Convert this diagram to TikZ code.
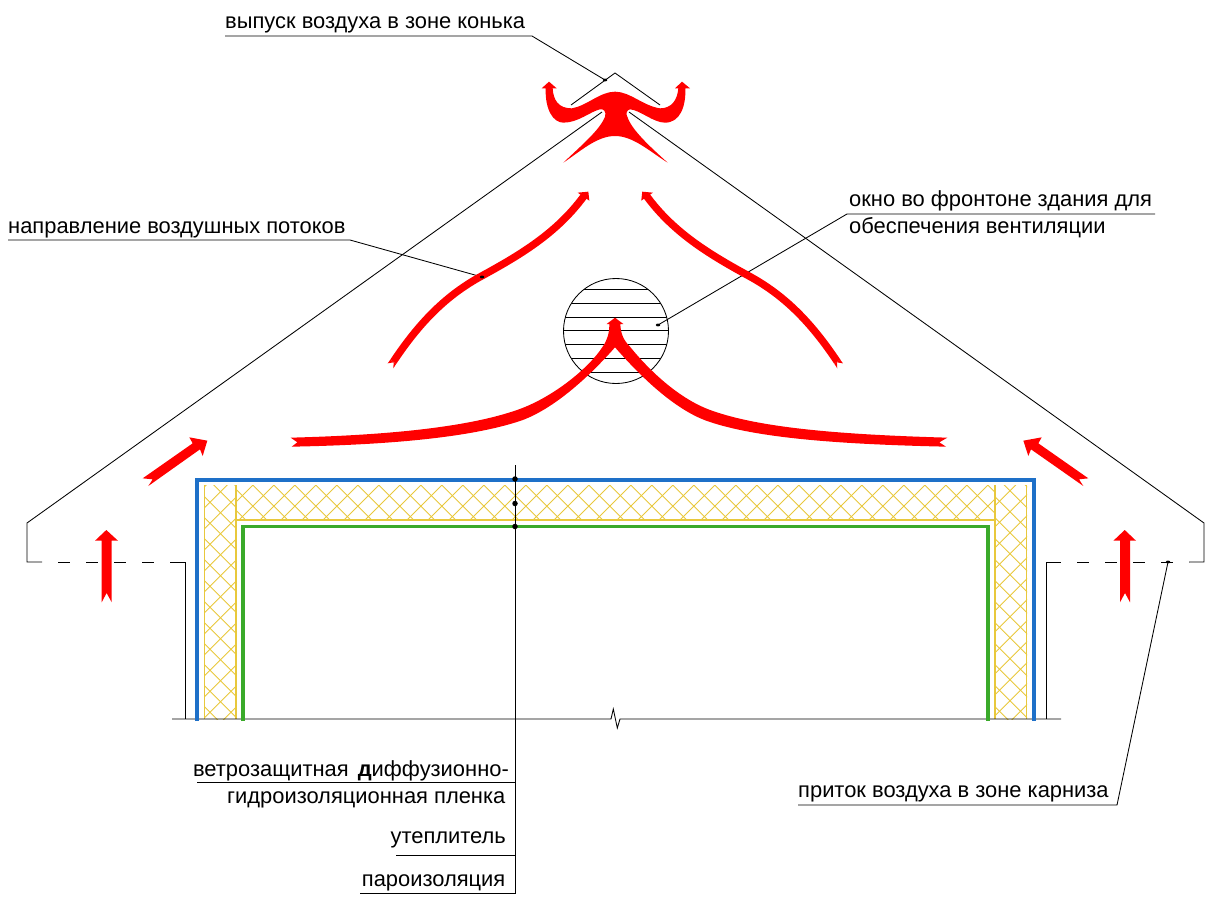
\documentclass[tikz,border=0pt]{standalone}
\usepackage{fontspec}
\usetikzlibrary{shapes.geometric}
\setmainfont{Liberation Sans}
\definecolor{flowred}{RGB}{255,0,0}
\definecolor{memblue}{RGB}{30,112,200}
\definecolor{vapgreen}{RGB}{58,170,42}
\definecolor{insyellow}{RGB}{232,200,60}
\tikzset{
  thinline/.style={draw=black,line width=0.85pt},
  leader/.style={draw=black,line width=0.85pt},
  lbl/.style={inner sep=0pt,anchor=base west,font=\fontsize{21.9}{26}\selectfont},
  lblr/.style={inner sep=0pt,anchor=base east,font=\fontsize{21.9}{26}\selectfont},
  dotmark/.style={circle,fill=black,inner sep=0pt,minimum size=5.5pt},
  smalldot/.style={ellipse,fill=black,inner sep=0pt,minimum width=4.5pt,minimum height=2.8pt},
  hatchline/.style={draw=insyellow,line width=0.8pt},
  insline/.style={draw=insyellow,line width=1.2pt},
  zoomA/.style={shift={(#1)},x=0.33333pt,y=-0.33333pt},
  flow/.style={fill=flowred,draw=none},
  upstream/.style={draw=flowred,line width=7.4pt},
}
\newcommand{\hatchband}[6]{%
  \begin{scope}
    \clip (#1,#2) rectangle (#3,#4);
    \foreach \k in {0,...,100} {
      \pgfmathsetmacro{\cA}{#5+21*\k}
      \pgfmathsetmacro{\cB}{#6+21*\k}
      \draw[hatchline] (\cA-460,460) -- (\cA-740,740);
      \draw[hatchline] (\cB+460,460) -- (\cB+740,740);
    }
  \end{scope}}
\newcommand{\upperflow}{%
  \begin{scope}[zoomA={280,170}]
    \draw[upstream] (340,575) .. controls (420,455) and (500,375) .. (605,318)
      .. controls (720,255) and (830,190) .. (912,78);
    \fill[flow] (331,569) -- (323,580) -- (341,577) -- (340,595) -- (349,581) -- cycle;
    \fill[flow] (893,68) -- (925,65) -- (928,92) -- cycle;
  \end{scope}}
\begin{document}
\begin{tikzpicture}[x=1pt,y=-1pt]
\useasboundingbox (0,0) rectangle (1207,899);
% --- insulation hatch ---
\hatchband{204}{485}{236}{719}{439.3}{-838.3}
\hatchband{236}{485}{995}{520}{423}{-820.3}
\hatchband{995}{485}{1027}{719}{429.7}{-824.7}
\draw[insline] (204.3,485) -- (204.3,719);
\draw[insline] (236,485) -- (236,520) -- (995,520) -- (995,485);
\draw[insline] (236,520) -- (236,719);
\draw[insline] (995,520) -- (995,719);
\draw[insline] (1026.7,485) -- (1026.7,719);
% --- building outline ---
\draw[thinline] (602,112) -- (27,523) -- (27,562) -- (42,562);
\draw[thinline,dash pattern=on 12pt off 16pt] (58,562) -- (170,562);
\draw[thinline] (170,562) -- (185.5,562) -- (185.5,719);
\draw[thinline] (629,112) -- (1204,523) -- (1204,562) -- (1189,562);
\draw[thinline] (1046,719) -- (1046,562) -- (1061,562);
\draw[thinline,dash pattern=on 12pt off 16pt] (1077,562) -- (1189,562);
\draw[thinline] (571,105) -- (615,73) -- (660,105);
\draw[thinline] (172,719) -- (611,719) -- (613.3,709) -- (617.3,728) -- (620,719) -- (1061,719);
% --- window ---
\begin{scope}
  \clip (616,331) circle (52.5);
  \foreach \y in {289.3,303.3,317,330.7,344.7,358.7,372.3} {
    \draw[thinline] (560,\y) -- (672,\y);
  }
\end{scope}
\draw[thinline] (616,331) circle (52.5);
% --- layers ---
\draw[draw=memblue,line width=3.6pt,miter limit=10] (197,721) -- (197,480) -- (1034,480) -- (1034,721);
\draw[draw=vapgreen,line width=3.6pt] (243,721) -- (243,526.5) -- (988,526.5) -- (988,721);
% --- leaders ---
\coordinate (tipA) at (605,80);
\coordinate (kneeA) at (532,36);
\coordinate (startA) at (225,36);
\coordinate (tipB) at (482,277);
\coordinate (kneeB) at (350,240);
\coordinate (startB) at (8,240);
\coordinate (tipC) at (658,325);
\coordinate (kneeC) at (847,214);
\coordinate (endC) at (1155,214);
\coordinate (tipD) at (1168,562);
\coordinate (kneeD) at (1117,805);
\coordinate (startD) at (798,805);
\coordinate (topE) at (515,465);
\coordinate (botE) at (515,893);
\coordinate (e1) at (197,782.5);
\coordinate (e1r) at (515,782.5);
\coordinate (e2) at (396,855);
\coordinate (e2r) at (515,855);
\coordinate (e3) at (360,893);
\draw[leader] (startA) -- (kneeA) -- (tipA);
\draw[leader] (startB) -- (kneeB) -- (tipB);
\draw[leader] (endC) -- (kneeC) -- (tipC);
\draw[leader] (startD) -- (kneeD) -- (tipD);
\draw[leader] (topE) -- (botE) -- (e3);
\draw[leader] (e1) -- (e1r);
\draw[leader] (e2) -- (e2r);
% --- red flows ---
\begin{scope}[zoomA={500,0}]
\fill[flow] (137,265) -- (125,265) -- (147,245) -- (170,265) -- (158,265)
  .. controls (160,300) and (175,325) .. (215,325)
  .. controls (260,318) and (300,275) .. (345,275)
  .. controls (390,275) and (430,318) .. (480,325)
  .. controls (515,325) and (532,300) .. (535,265)
  -- (525,265) -- (546,245) -- (570,265) -- (556,265)
  .. controls (558,320) and (540,368) .. (495,368)
  .. controls (460,368) and (420,330) .. (390,328)
  .. controls (378,330) and (378,345) .. (382,350)
  .. controls (395,390) and (450,440) .. (503,488)
  .. controls (450,455) and (400,408) .. (345,408)
  .. controls (290,408) and (240,455) .. (190,488)
  .. controls (240,440) and (300,390) .. (315,350)
  .. controls (320,335) and (310,325) .. (300,328)
  .. controls (270,335) and (235,368) .. (190,368)
  .. controls (160,368) and (135,330) .. (137,265) -- cycle;
\end{scope}
% upper flows (right one is the mirror image of the left one)
\upperflow
\begin{scope}[shift={(1230.6,0)},xscale=-1]
\upperflow
\end{scope}
% lower forked flow with its common head
\begin{scope}[zoomA={280,170}]
\fill[flow] (32,803) .. controls (300,796) and (555,775) .. (714,719)
  .. controls (824,680) and (930,590) .. (968,530)
  .. controls (982,510) and (988,490) .. (988,462)
  -- (980,462) -- (1005,443) -- (1030,462) -- (1021,462)
  .. controls (1022,490) and (1030,510) .. (1050,530)
  .. controls (1090,580) and (1186,684) .. (1296,722)
  .. controls (1445,775) and (1690,794) .. (2002,803)
  -- (1978,817) -- (1998,830)
  .. controls (1690,823) and (1435,806) .. (1284,754)
  .. controls (1174,716) and (1065,600) .. (1005,532)
  .. controls (945,600) and (836,710) .. (726,751)
  .. controls (565,806) and (300,825) .. (35,830)
  -- (52,817) -- cycle;
\end{scope}
% straight flows
\fill[flow] (106.3,530) -- (118,540.7) -- (111.7,540.7) -- (111.7,602.3) -- (106.6,593) -- (101.7,602.3) -- (101.7,540.7) -- (95,540.7) -- cycle;
\fill[flow] (1124.7,530) -- (1136,540.7) -- (1130,540.7) -- (1130,602.3) -- (1125,593) -- (1120,602.3) -- (1120,540.7) -- (1113.4,540.7) -- cycle;
\begin{scope}[zoomA={0,420}]
\fill[flow] (622,62) -- (608,108) -- (600,88) -- (445,198) -- (458,178) -- (428,175) -- (578,70) -- (568,52) -- cycle;
\end{scope}
\begin{scope}[zoomA={960,420}]
\fill[flow] (190,62) -- (205,108) -- (213,88) -- (370,198) -- (357,178) -- (385,175) -- (235,70) -- (245,52) -- cycle;
\end{scope}
% --- dots ---
\node[smalldot] (dotA) at (tipA) {};
\node[smalldot] (dotB) at (tipB) {};
\node[smalldot] (dotC) at (tipC) {};
\node[smalldot] (dotD) at (tipD) {};
\node[dotmark] (d1) at (515,479) {};
\node[dotmark] (d2) at (515,503.5) {};
\node[dotmark] (d3) at (515,526.5) {};
% --- texts ---
\node[lbl] (tA) at (225,29) {выпуск воздуха в зоне конька};
\node[lbl] (tB) at (8,233) {направление воздушных потоков};
\node[lbl] (tC1) at (849,206) {окно во фронтоне здания для};
\node[lbl] (tC2) at (849,233) {обеспечения вентиляции};
\node[lbl] (tD) at (798,797) {приток воздуха в зоне карниза};
\node[lblr] (tE1) at (509,776) {ветрозащитная\hspace{3pt} {\bfseries д}иффузионно-};
\node[lblr] (tE2) at (505.5,803) {гидроизоляционная пленка};
\node[lblr] (tE3) at (506,843) {утеплитель};
\node[lblr] (tE4) at (505.5,886.5) {пароизоляция};
\end{tikzpicture}
\end{document}
